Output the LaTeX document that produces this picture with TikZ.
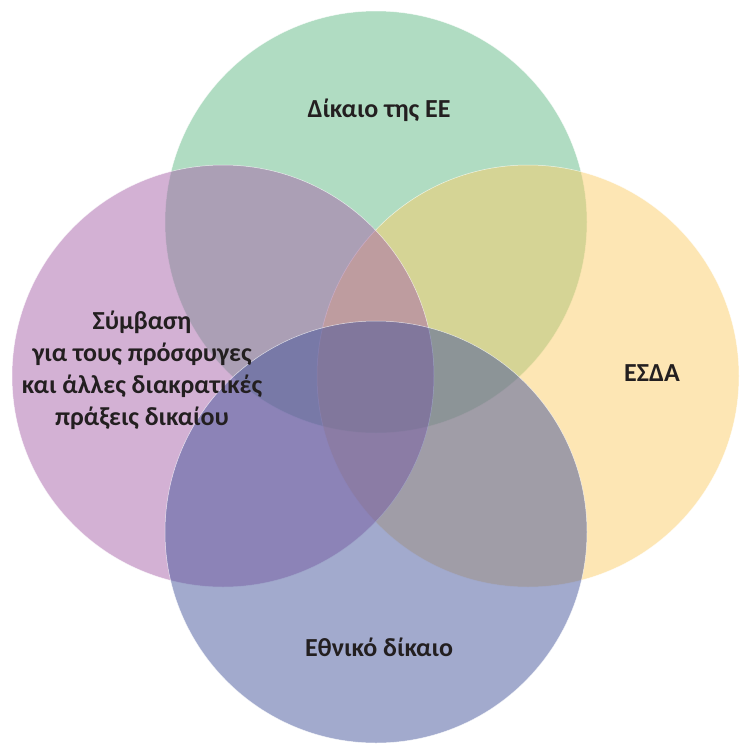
\documentclass[tikz,border=0pt]{standalone}
\usepackage{fontspec}
\setmainfont{Carlito}
\definecolor{eugreen}{RGB}{97,185,133}
\definecolor{echryellow}{RGB}{251,205,105}
\definecolor{treatypurple}{RGB}{168,100,170}
\definecolor{nationalblue}{RGB}{69,85,155}
\definecolor{labeltext}{RGB}{35,31,32}
\begin{document}
\begin{tikzpicture}[x=1pt, y=-1pt,
    disc/.style={circle, minimum size=422pt, inner sep=0pt, fill opacity=0.5, draw=white, draw opacity=0.7, line width=0.5pt},
    label/.style={font=\fontsize{26}{32}\selectfont\bfseries, text=labeltext, align=center}
]
\useasboundingbox (0,0) rectangle (739,747);

% circles
\node[disc, fill=eugreen] (eu) at (376,222) {};
\node[disc, fill=echryellow] (echr) at (528,376) {};
\node[disc, fill=treatypurple] (treaty) at (223,376) {};
\node[disc, fill=nationalblue] (national) at (376,532) {};

% labels
\node[label] (eu_text) at (379,110) {Δίκαιο της ΕΕ};
\node[label] (echr_text) at (652,373) {ΕΣΔΑ};
\node[label] (treaty_text) at (142,370) {Σύμβαση\\για τους πρόσφυγες\\και άλλες διακρατικές\\πράξεις δικαίου};
\node[label] (national_text) at (379,647) {Εθνικό δίκαιο};

\end{tikzpicture}
\end{document}
